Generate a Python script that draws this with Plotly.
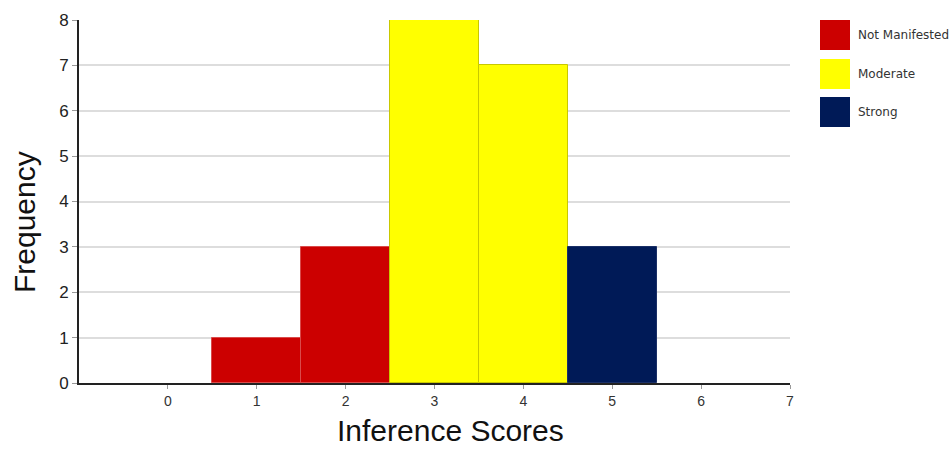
import plotly.graph_objects as go

categories = ["Not Manifested", "Moderate", "Strong"]
colors = ["#CC0000", "#FFFF00", "#001A57"]
scores = {
    "Not Manifested": [1, 2],
    "Moderate": [3, 4],
    "Strong": [5],
}
freqs = {
    "Not Manifested": [1, 3],
    "Moderate": [8, 7],
    "Strong": [3],
}
x_ticks = [0, 1, 2, 3, 4, 5, 6, 7]
y_ticks = [0, 1, 2, 3, 4, 5, 6, 7, 8]
x_title = "Inference Scores"
y_title = "Frequency"

fig = go.Figure()
line_cols = ["#d94a4a", "#c8c800", "#1a2f66"]
for cat, col, lc in zip(categories, colors, line_cols):
    fig.add_trace(go.Bar(
        x=scores[cat], y=freqs[cat], name=cat, width=1,
        marker=dict(color=col, line=dict(color=lc, width=1)),
        showlegend=False,
    ))

W, H = 952, 449
ml, mr, mt, mb = 79, 162, 20, 66
pw, ph = W - ml - mr, H - mt - mb

def px(xp):
    return (xp - ml) / pw
def py(yp):
    return 1 - (yp - mt) / ph

shapes = []
annotations = []
box_tops = [20, 59, 97]
for cat, col, top in zip(categories, colors, box_tops):
    shapes.append(dict(type="rect", xref="paper", yref="paper",
                       x0=px(820), x1=px(850), y0=py(top + 30), y1=py(top),
                       fillcolor=col, line=dict(width=0)))
    annotations.append(dict(xref="paper", yref="paper", x=px(856), y=py(top + 15),
                            text=cat, showarrow=False, xanchor="left", yanchor="middle",
                            font=dict(family="DejaVu Sans", size=12, color="#333333")))

title_font = dict(family="Liberation Sans", size=30, color="#111111")
annotations.append(dict(xref="paper", yref="paper", x=px(450), y=py(448),
                        text=x_title, showarrow=False, xanchor="center", yanchor="bottom",
                        borderpad=0, font=title_font))
annotations.append(dict(xref="paper", yref="paper", x=px(25), y=py(222),
                        text=y_title, showarrow=False, xanchor="center", yanchor="middle",
                        textangle=-90, font=title_font))

fig.update_layout(
    width=W, height=H,
    margin=dict(l=ml, r=mr, t=mt, b=mb, autoexpand=False),
    paper_bgcolor="white", plot_bgcolor="white",
    barmode="overlay", bargap=0,
    shapes=shapes, annotations=annotations,
    xaxis=dict(range=[-1, 7], tickvals=x_ticks, ticks="outside", ticklen=4,
               tickcolor="#999999", showline=True, linecolor="#222222", linewidth=2,
               showgrid=False, zeroline=False, automargin=False,
               tickfont=dict(family="Liberation Sans", size=14, color="#333333")),
    yaxis=dict(range=[0, 8], tickvals=y_ticks, ticks="outside", ticklen=5,
               tickcolor="#999999", showline=True, linecolor="#222222", linewidth=2,
               showgrid=True, gridcolor="#dddddd", gridwidth=1.5, zeroline=False,
               automargin=False,
               tickfont=dict(family="Liberation Sans", size=17, color="#222222")),
    showlegend=False,
)

fig.write_html("out.html", config={"displayModeBar": False})

with open("out.html", "r", encoding="utf-8") as f:
    html = f.read()
html = html.replace("<body>", '<body style="margin:0;padding:0;overflow:hidden">', 1)
with open("out.html", "w", encoding="utf-8") as f:
    f.write(html)
